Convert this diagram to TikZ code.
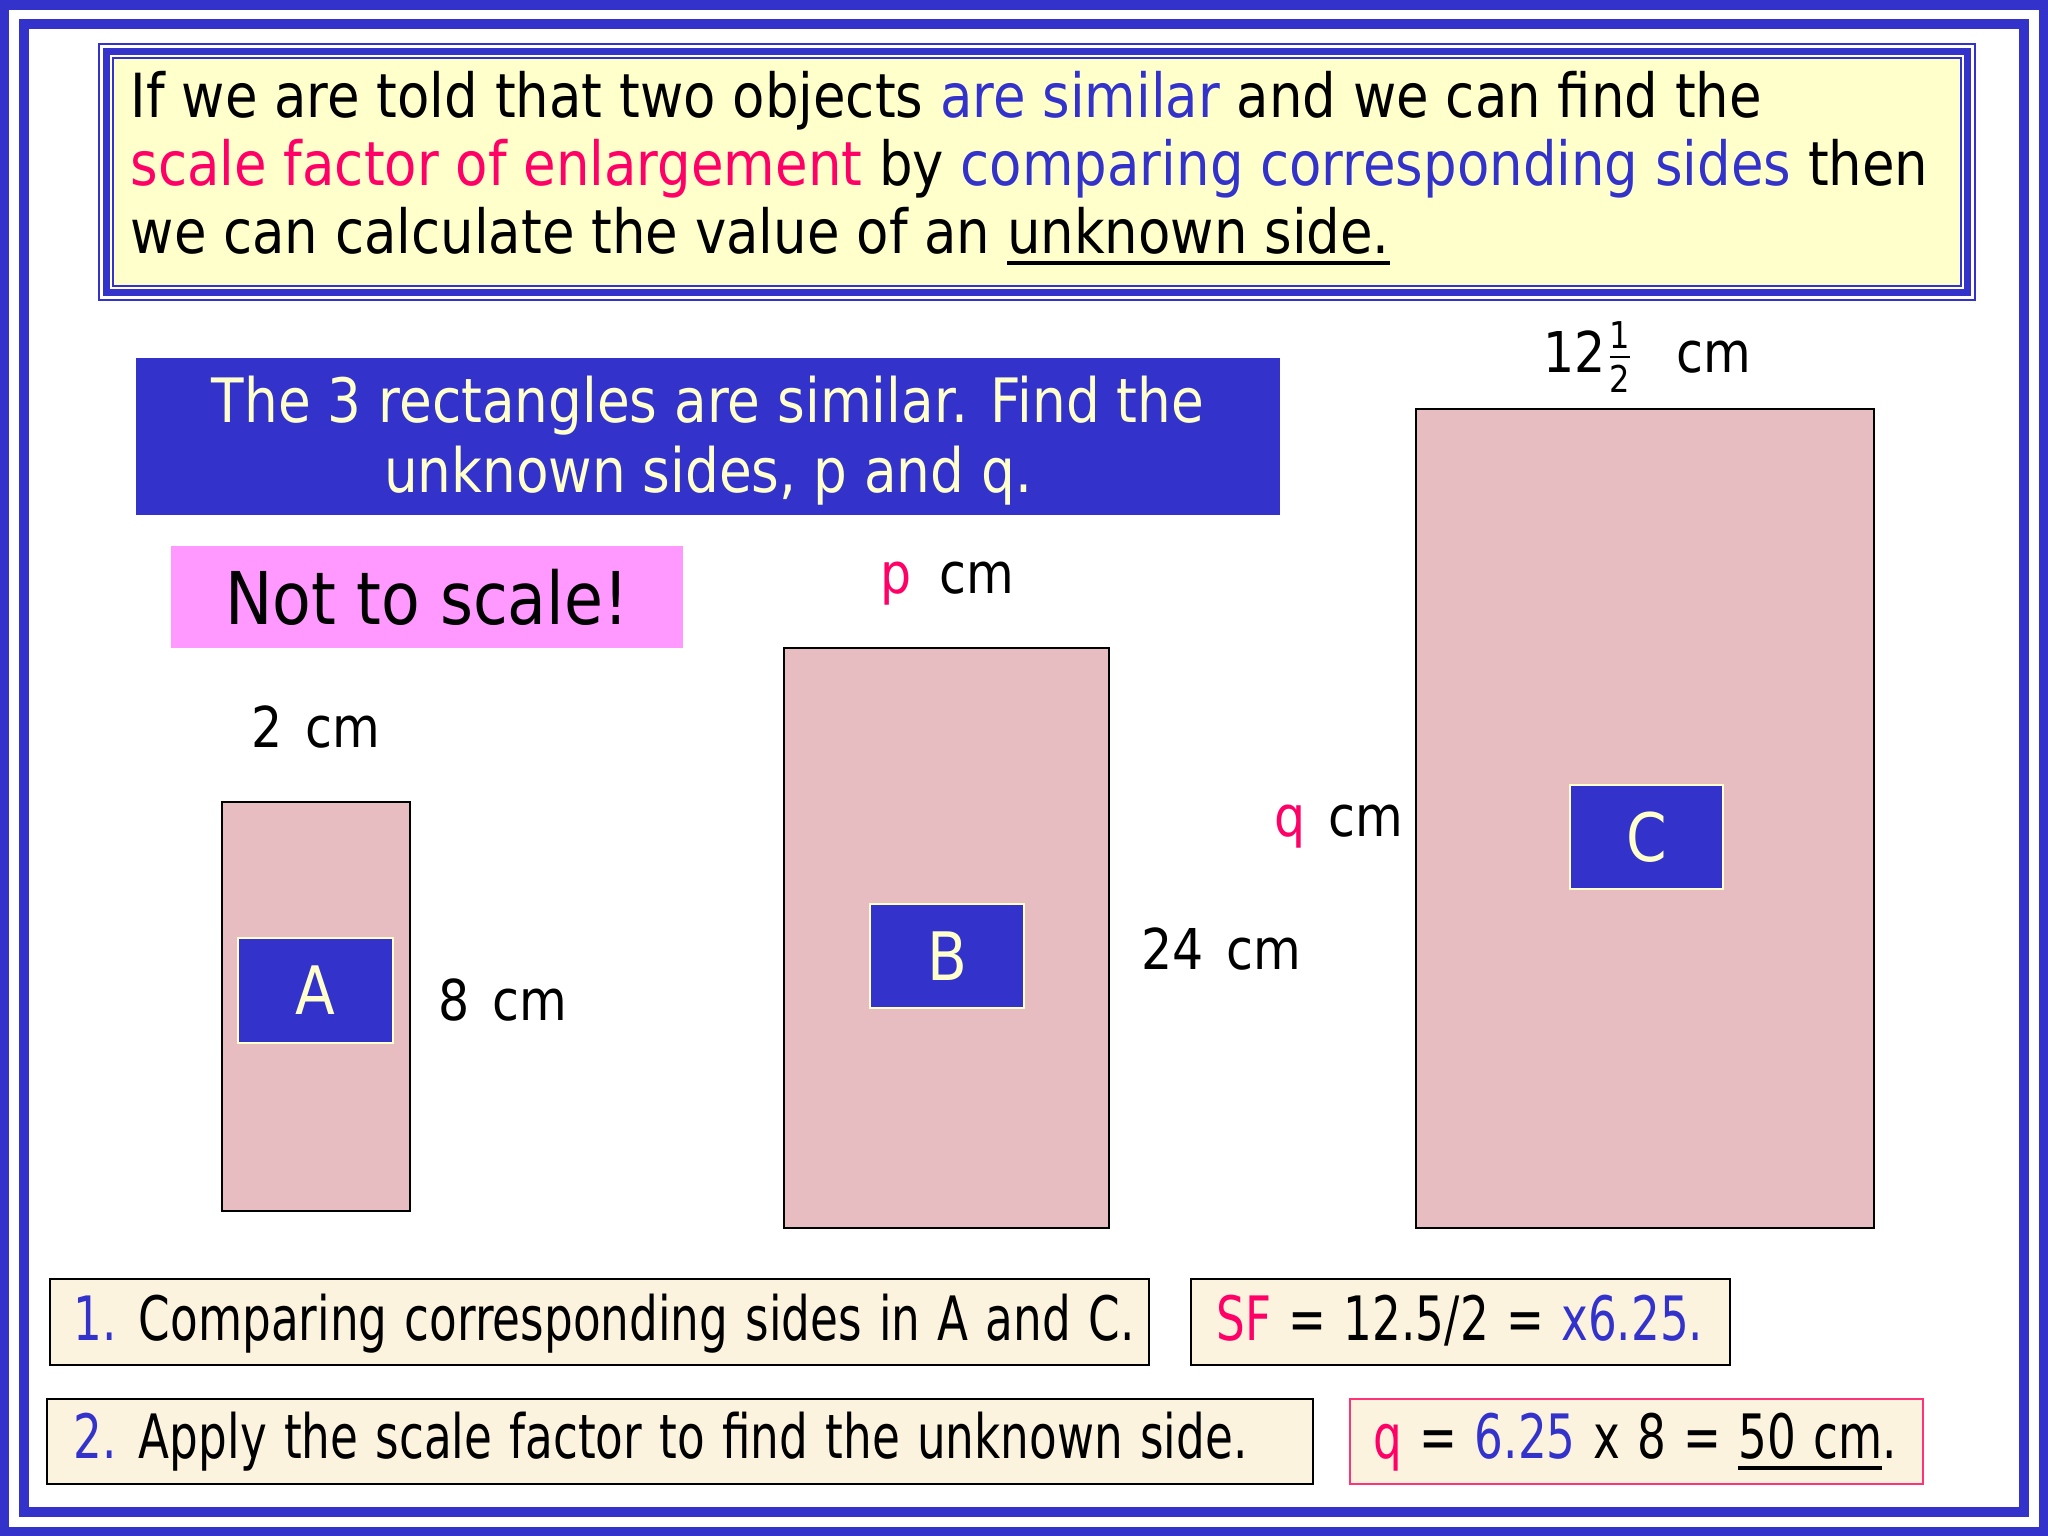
\documentclass[tikz,border=0pt]{standalone}
\usepackage{amsmath}
\usepackage{fontspec}
\setmainfont{DejaVu Sans}[FakeStretch=0.87]
\newfontfamily\narrowfont{DejaVu Sans}[FakeStretch=0.74,WordSpace=1.2]
\definecolor{slideblue}{HTML}{3333CC}
\definecolor{hotpink}{HTML}{FF0066}
\definecolor{cream}{HTML}{FFFFCC}
\definecolor{parchment}{HTML}{FCF3DF}
\definecolor{rosefill}{HTML}{E8BDC2}
\definecolor{lilac}{HTML}{FF99FF}
\definecolor{redline}{HTML}{FF3377}
\newcommand{\halfmark}{$\genfrac{}{}{0.7pt}{}{\mbox{\fontsize{10.5}{10.5}\selectfont 1}}{\mbox{\fontsize{10.5}{10.5}\selectfont 2}}$}
\newcommand{\thickul}[1]{\setbox0=\hbox{#1}\rlap{\vrule width\wd0 height -2.4pt depth 3.3pt}\box0}
\newcommand{\labelgap}{\hspace{6.5pt}}
\begin{document}
\begin{tikzpicture}[x=0.01cm,y=-0.01cm,
  bigtext/.style={anchor=base west,inner sep=0pt,font=\fontsize{17.3}{20}\selectfont},
  titletext/.style={anchor=base,inner sep=0pt,text=cream,font=\fontsize{17.4}{20}\selectfont},
  rectshape/.style={draw=black,line width=0.6pt,fill=rosefill,inner sep=0pt},
  letterbox/.style={draw=cream,line width=0.4pt,fill=slideblue,text=cream,inner sep=0pt,font=\fontsize{19}{19}\selectfont},
  sidelabel/.style={anchor=base,inner sep=0pt,font=\fontsize{16}{16}\selectfont},
  stepbox/.style={draw=black,line width=0.6pt,fill=parchment,inner sep=0pt},
  steptext/.style={anchor=base west,inner sep=0pt,font=\narrowfont\fontsize{17.4}{20}\selectfont}]
\useasboundingbox (0,0) rectangle (2048,1536);
\fill[white] (0,0) rectangle (2048,1536);
% slide frame
\draw[slideblue,line width=2.7pt] (4.75,4.75) rectangle (2043.25,1531.25);
\draw[slideblue,line width=2.85pt] (24,24) rectangle (2024,1512);
% statement at the top
\fill[cream] (113,58) rectangle (1961,286);
\draw[slideblue,line width=0.6pt] (99,44) rectangle (1975,300);
\draw[slideblue,line width=2pt] (106.5,51.5) rectangle (1967.5,292.5);
\draw[slideblue,line width=0.6pt] (113,58) rectangle (1961,286);
\node[bigtext] (introa) at (130,117) {If we are told that two objects \textcolor{slideblue}{are similar} and we can find the};
\node[bigtext] (introb) at (130,185) {\textcolor{hotpink}{scale factor of enlargement} by \textcolor{slideblue}{comparing corresponding sides} then};
\node[bigtext] (introc) at (130,253) {we can calculate the value of an \thickul{unknown side.}};
% task
\node[fill=slideblue,minimum width=11.44cm,minimum height=1.57cm,inner sep=0pt] (task) at (708,436.5) {};
\node[titletext] (taska) at (708,422) {The 3 rectangles are similar. Find the};
\node[titletext] (taskb) at (708,492) {unknown sides, p and q.};
\node[fill=lilac,minimum width=5.12cm,minimum height=1.02cm,inner sep=0pt,font=\fontsize{20.7}{20.7}\selectfont] (warn) at (427,597) {Not to scale!};
% the three rectangles
\node[rectshape,minimum width=1.88cm,minimum height=4.09cm] (rectA) at (316,1006.5) {};
\node[rectshape,minimum width=3.25cm,minimum height=5.80cm] (rectB) at (946.5,938) {};
\node[rectshape,minimum width=4.58cm,minimum height=8.19cm] (rectC) at (1645,818.5) {};
\node[letterbox,minimum width=1.55cm,minimum height=1.05cm] (tagA) at (315.5,990.5) {A};
\node[letterbox,minimum width=1.54cm,minimum height=1.04cm] (tagB) at (947,956) {B};
\node[letterbox,minimum width=1.53cm,minimum height=1.04cm] (tagC) at (1646.5,837) {C};
\node[sidelabel] (widthA) at (316,747) {2\labelgap cm};
\node[sidelabel] (heightA) at (503,1020) {8\labelgap cm};
\node[sidelabel] (widthB) at (947.5,593) {\textcolor{hotpink}{p}\hspace{8pt}cm};
\node[sidelabel] (heightB) at (1221,969) {24\labelgap cm};
\node[sidelabel] (heightC) at (1339,836) {\textcolor{hotpink}{q}\labelgap cm};
\node[sidelabel] (widthC) at (1647,372) {12\halfmark\hspace{12pt}cm};
% working
\node[stepbox,minimum width=10.99cm,minimum height=0.86cm] (stepa) at (599.5,1322) {};
\node[steptext] (stepatext) at (73,1340) {\textcolor{slideblue}{1.} Comparing corresponding sides in A and C.};
\node[stepbox,minimum width=5.39cm,minimum height=0.86cm] (sfbox) at (1460.5,1322) {};
\node[steptext] (sftext) at (1216,1340) {\textcolor{hotpink}{SF} = 12.5/2 = \textcolor{slideblue}{x6.25.}};
\node[stepbox,minimum width=12.66cm,minimum height=0.85cm] (stepb) at (680,1441.5) {};
\node[steptext] (stepbtext) at (73,1458) {\textcolor{slideblue}{2.} Apply the scale factor to find the unknown side.};
\node[stepbox,draw=redline,minimum width=5.73cm,minimum height=0.85cm] (qbox) at (1636.5,1441.5) {};
\node[steptext] (qtext) at (1373,1458) {\textcolor{hotpink}{q} = \textcolor{slideblue}{6.25} x 8 = \thickul{50 cm}.};
\end{tikzpicture}
\end{document}
